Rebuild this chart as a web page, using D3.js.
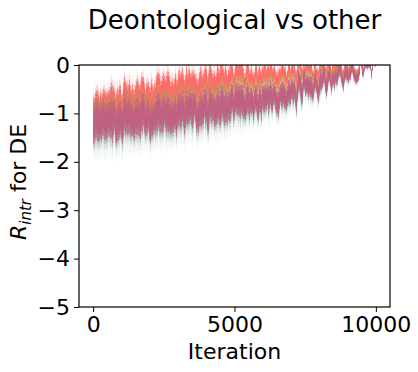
<!DOCTYPE html>
<html>
<meta charset="utf-8" />
<title>Deontological vs other</title>
<head>
    <script src="https://d3js.org/d3.v7.min.js"></script>
    <style>
        body { margin: 0; background: #fff; }
        text { font-family: "DejaVu Sans", sans-serif; fill: #000; }
    </style>
</head>
<body>
<div id="chart"></div>
<script type="text/javascript">
    var iterations = [0, 1000, 2000, 3000, 4000, 5000, 6000, 7000, 8000, 9000, 9999];
    var redMean    = [-0.85, -0.72, -0.6, -0.48, -0.37, -0.28, -0.19, -0.12, -0.07, -0.03, 0];
    var redSpread  = [0.22, 0.24, 0.25, 0.25, 0.24, 0.21, 0.18, 0.14, 0.1, 0.07, 0.03];
    var oliveMean  = [-0.95, -0.88, -0.8, -0.72, -0.63, -0.53, -0.42, -0.31, -0.2, -0.1, 0];
    var oliveSpread = [0.22, 0.22, 0.22, 0.21, 0.2, 0.19, 0.17, 0.15, 0.12, 0.08, 0.03];
    var mauveMean  = [-1.2, -1.15, -1.08, -1.0, -0.92, -0.84, -0.7, -0.54, -0.37, -0.19, -0.02];
    var mauveSpread = [0.38, 0.36, 0.34, 0.33, 0.32, 0.3, 0.26, 0.22, 0.18, 0.12, 0.04];
    var tealMean   = [-1.28, -1.23, -1.16, -1.08, -1.0, -0.91, -0.77, -0.6, -0.42, -0.22, -0.03];
    var tealSpread = [0.36, 0.34, 0.33, 0.32, 0.31, 0.29, 0.25, 0.21, 0.17, 0.11, 0.04];
    var xTicks = [0, 5000, 10000];
    var yTicks = [0, -1, -2, -3, -4, -5];

    var series = [
        {name: "teal",  color: "#3fb596", mean: tealMean,  spread: tealSpread, op: [0.04, 0.1, 0.35, 0.4]},
        {name: "red",   color: "#ff6262", mean: redMean,   spread: redSpread,  op: [0.05, 0.2, 0.65, 0.75]},
        {name: "olive", color: "#c9a24c", mean: oliveMean, spread: oliveSpread, op: [0.02, 0.08, 0.3, 0.35]},
        {name: "mauve", color: "#c25e80", mean: mauveMean, spread: mauveSpread, op: [0.04, 0.15, 0.7, 0.85]}
    ];
    var widths = [1.9, 1.4, 1.0, 0.6];

    const W = 418, H = 372,
        pLeft = 79, pRight = 390, pTop = 65, pBottom = 307;

    var svg = d3.select("#chart").append("svg")
        .attr("width", W).attr("height", H);

    var x = d3.scaleLinear().domain([-500, 10500]).range([pLeft, pRight]);
    var y = d3.scaleLinear().domain([-5, 0]).range([pBottom, pTop]);

    var defs = svg.append("defs");
    defs.append("clipPath").attr("id", "plotclip")
        .append("rect").attr("x", pLeft).attr("y", pTop)
        .attr("width", pRight - pLeft).attr("height", pBottom - pTop);

    // vertical streak texture: displace the bands up/down only
    var f = defs.append("filter").attr("id", "streak")
        .attr("x", "-5%").attr("y", "-40%").attr("width", "110%").attr("height", "180%")
        .attr("color-interpolation-filters", "sRGB");
    f.append("feTurbulence").attr("type", "fractalNoise")
        .attr("baseFrequency", "0.5 0.006").attr("numOctaves", 2).attr("seed", 4)
        .attr("result", "noise");
    f.append("feColorMatrix").attr("in", "noise").attr("type", "matrix")
        .attr("values", "0 0 0 0 0.5  0 1 0 0 0  0 0 1 0 0  0 0 0 0 1")
        .attr("result", "map");
    f.append("feDisplacementMap").attr("in", "SourceGraphic").attr("in2", "map")
        .attr("scale", 34).attr("xChannelSelector", "R").attr("yChannelSelector", "G");

    var plot = svg.append("g").attr("clip-path", "url(#plotclip)");

    function band(s, k) {
        return d3.area()
            .x(function(d, i) { return x(iterations[i]); })
            .y0(function(d, i) { return y(s.mean[i] - k * s.spread[i]); })
            .y1(function(d, i) { return y(s.mean[i] + k * s.spread[i]); })
            .curve(d3.curveMonotoneX)(iterations);
    }

    series.forEach(function(s) {
        var g = plot.append("g").attr("filter", "url(#streak)");
        widths.forEach(function(k, j) {
            g.append("path").attr("d", band(s, k))
                .attr("fill", s.color).attr("fill-opacity", s.op[j]);
        });
    });

    // axes
    var xAxis = svg.append("g").attr("transform", "translate(0," + pBottom + ")")
        .call(d3.axisBottom(x).tickValues(xTicks).tickSize(5).tickPadding(4).tickFormat(d3.format("d")));
    var yAxis = svg.append("g").attr("transform", "translate(" + pLeft + ",0)")
        .call(d3.axisLeft(y).tickValues(yTicks).tickSize(5).tickPadding(4)
            .tickFormat(function(d) { return d < 0 ? "\u2212" + (-d) : d; }));
    [xAxis, yAxis].forEach(function(a) {
        a.attr("font-size", null).attr("font-family", null);
        a.select(".domain").remove();
        a.selectAll("line").attr("stroke", "#000").attr("stroke-width", 1);
        a.selectAll("text").style("font-size", "22px").style("font-family", "DejaVu Sans");
    });

    svg.append("rect").attr("x", pLeft).attr("y", pTop)
        .attr("width", pRight - pLeft).attr("height", pBottom - pTop)
        .attr("fill", "none").attr("stroke", "#000").attr("stroke-width", 1.2);

    svg.append("text").attr("x", (pLeft + pRight) / 2).attr("y", 29)
        .attr("text-anchor", "middle").style("font-size", "26px")
        .text("Deontological vs other");

    svg.append("text").attr("x", (pLeft + pRight) / 2).attr("y", 359)
        .attr("text-anchor", "middle").style("font-size", "22px")
        .text("Iteration");

    var yl = svg.append("text")
        .attr("transform", "translate(26,182) rotate(-90)")
        .attr("text-anchor", "middle").style("font-size", "22px");
    yl.append("tspan").style("font-style", "italic").text("R");
    yl.append("tspan").style("font-style", "italic").style("font-size", "15px")
        .attr("dy", 5).text("intr");
    yl.append("tspan").attr("dy", -5).text(" for DE");
</script>
</body>
</html>
